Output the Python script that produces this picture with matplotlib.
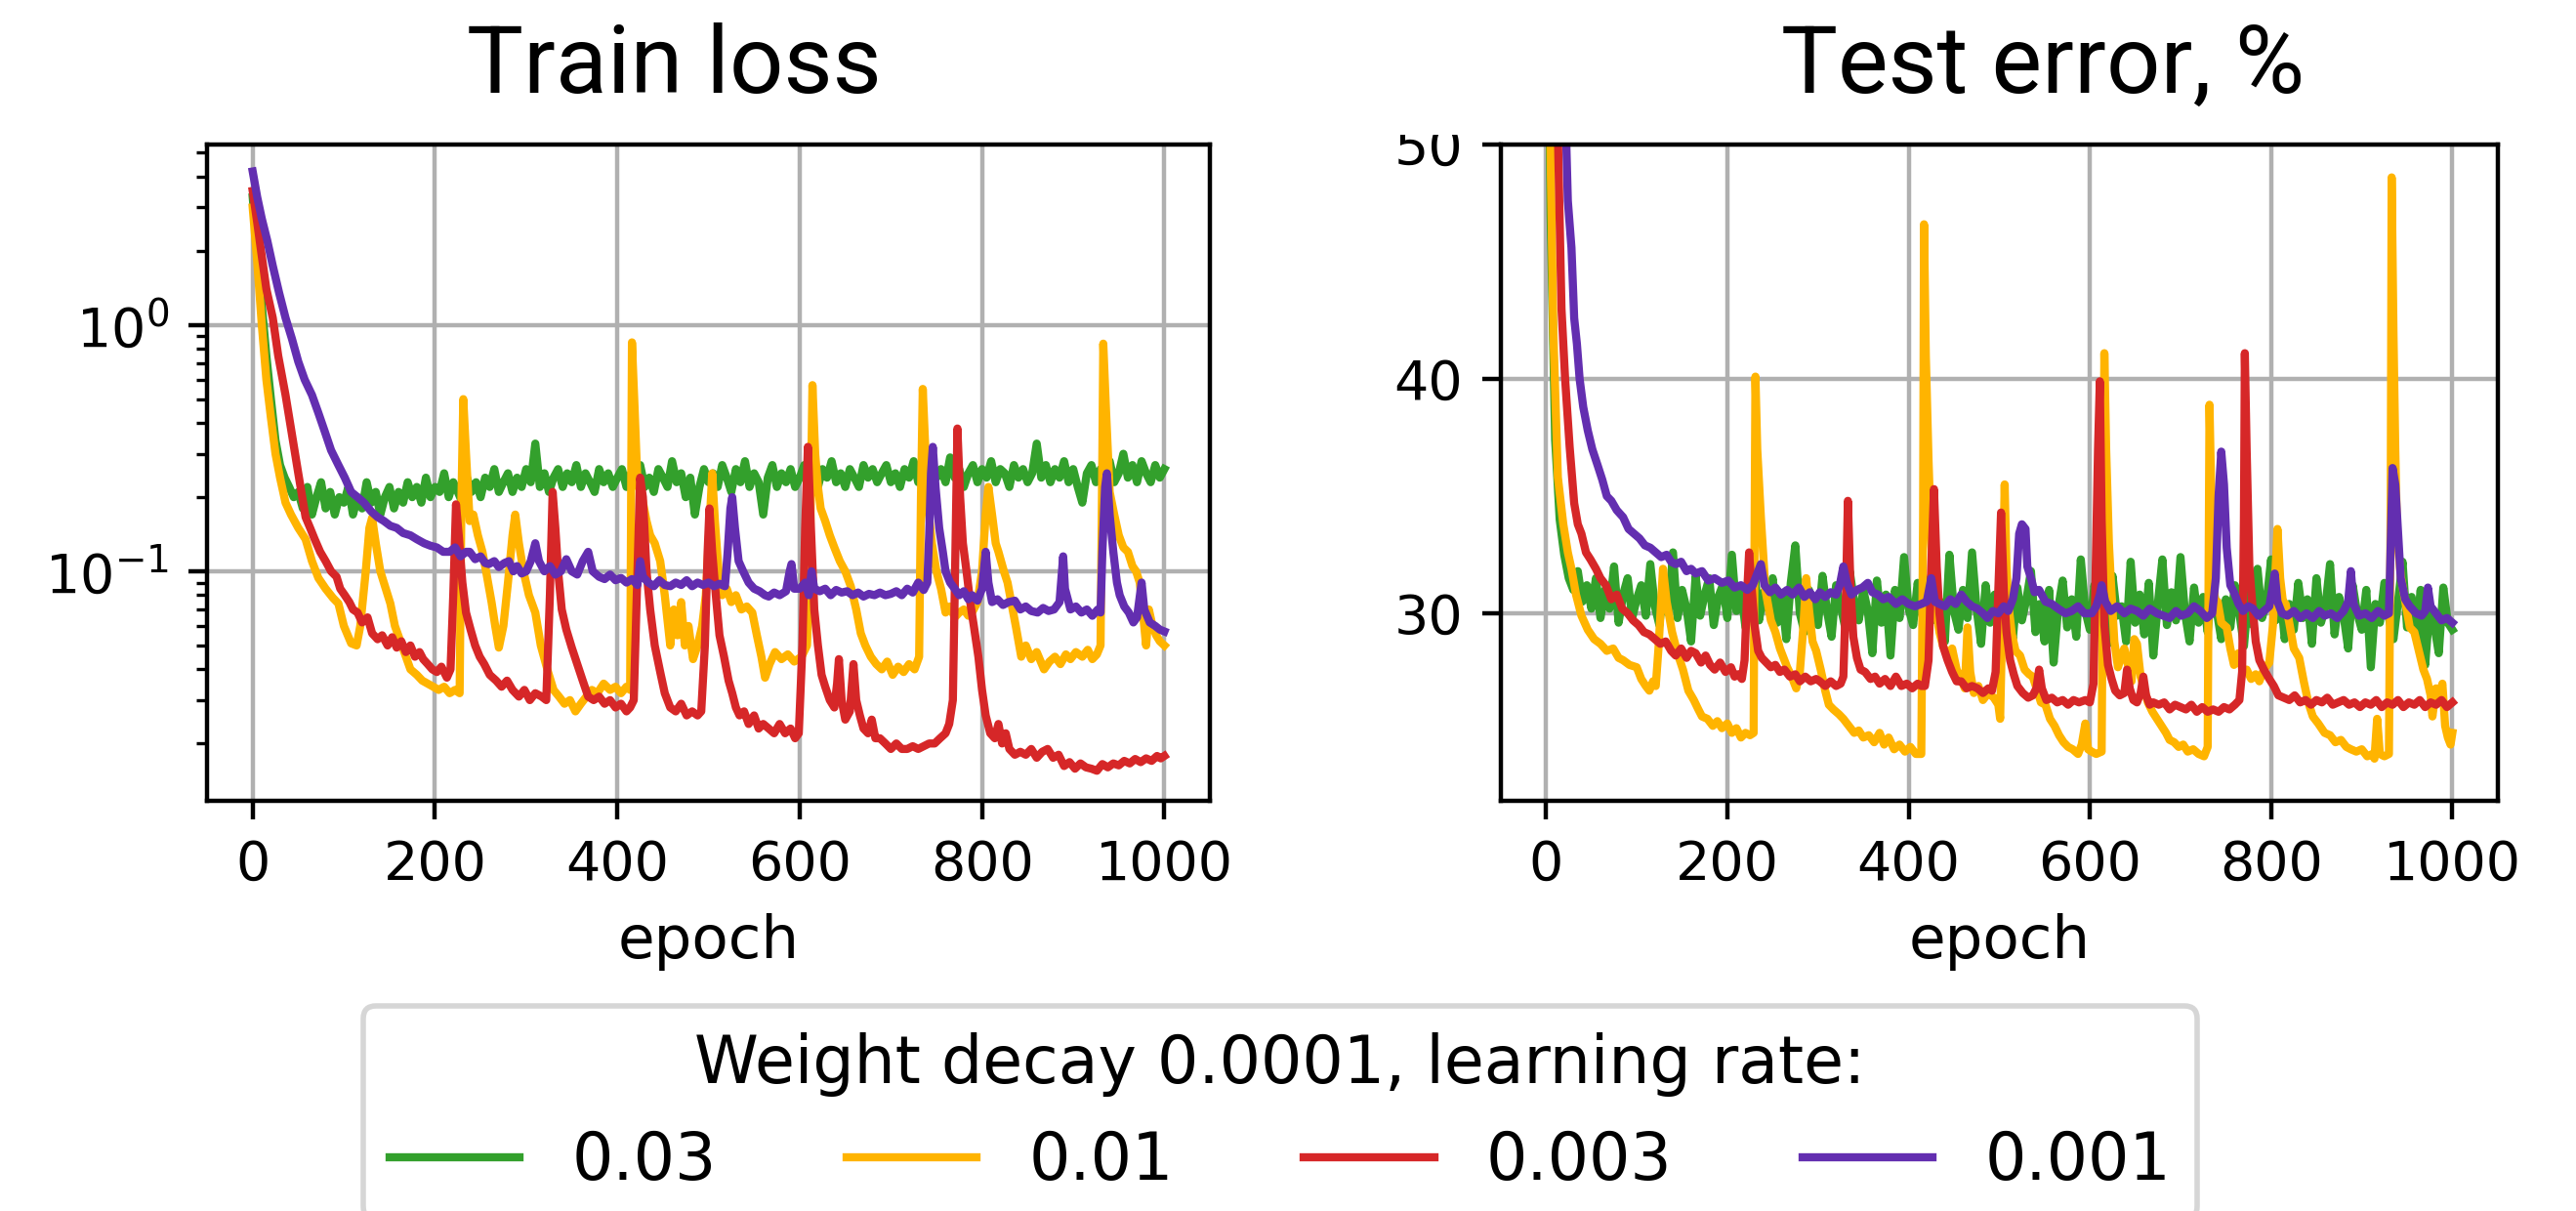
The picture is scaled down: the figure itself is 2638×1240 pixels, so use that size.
import numpy as np
import matplotlib
matplotlib.use("Agg")
import matplotlib.pyplot as plt
from matplotlib.transforms import Bbox, TransformedBbox

# learning rates and colours
lr_labels = ["0.03", "0.01", "0.003", "0.001"]
colors = ["#33a02c", "#ffb400", "#d62728", "#632eb0"]

# ---- train loss ----
# lr 0.03, sampled every 5 epochs
loss_green = [
    3.3, 2.0, 1.2, 0.75, 0.5, 0.34, 0.27, 0.24, 0.22, 0.2, 0.21,
    0.18, 0.22, 0.17, 0.2, 0.23, 0.18, 0.21, 0.17, 0.2, 0.19,
    0.22, 0.17, 0.2, 0.18, 0.23, 0.19, 0.21, 0.17, 0.2, 0.22,
    0.18, 0.21, 0.19, 0.23, 0.2, 0.22, 0.19, 0.24, 0.2, 0.22,
    0.21, 0.25, 0.2, 0.23, 0.21, 0.19, 0.24, 0.21, 0.23, 0.2,
    0.24, 0.22, 0.26, 0.21, 0.23, 0.25, 0.21, 0.24, 0.22, 0.26,
    0.23, 0.33, 0.22, 0.25, 0.21, 0.24, 0.26, 0.22, 0.25, 0.23,
    0.27, 0.22, 0.25, 0.23, 0.21, 0.26, 0.23, 0.25, 0.22, 0.24,
    0.26, 0.22, 0.25, 0.23, 0.27, 0.22, 0.24, 0.21, 0.26, 0.24,
    0.22, 0.28, 0.23, 0.25, 0.2, 0.24, 0.17, 0.22, 0.26, 0.23,
    0.25, 0.22, 0.27, 0.24, 0.21, 0.26, 0.23, 0.28, 0.22, 0.25,
    0.23, 0.17, 0.24, 0.27, 0.22, 0.25, 0.23, 0.26, 0.22, 0.24,
    0.27, 0.23, 0.25, 0.22, 0.26, 0.24, 0.28, 0.23, 0.25, 0.22,
    0.26, 0.24, 0.22, 0.27, 0.24, 0.26, 0.23, 0.25, 0.27, 0.23,
    0.25, 0.22, 0.26, 0.24, 0.28, 0.23, 0.25, 0.22, 0.27, 0.24,
    0.26, 0.23, 0.29, 0.24, 0.26, 0.22, 0.25, 0.27, 0.23, 0.26,
    0.24, 0.28, 0.23, 0.26, 0.25, 0.22, 0.27, 0.24, 0.26, 0.23,
    0.25, 0.33, 0.24, 0.27, 0.23, 0.26, 0.24, 0.28, 0.23, 0.26,
    0.22, 0.19, 0.25, 0.27, 0.23, 0.26, 0.24, 0.28, 0.23, 0.25,
    0.3, 0.24, 0.27, 0.23, 0.28, 0.25, 0.23, 0.27, 0.24, 0.26,
]

# (epoch, loss) for the other learning rates
loss_orange = [
    (0, 3.0), (5, 1.8), (10, 1.0), (15, 0.6), (20, 0.42), (25, 0.3), (30, 0.24), (36, 0.19),
    (42, 0.17), (50, 0.15), (58, 0.135), (65, 0.11), (72, 0.094), (80, 0.085), (88, 0.078),
    (94, 0.074), (100, 0.06), (108, 0.051), (114, 0.05), (118, 0.06), (124, 0.1), (128, 0.15),
    (131, 0.165), (135, 0.13), (140, 0.1), (146, 0.085), (151, 0.074), (156, 0.06), (162, 0.052),
    (168, 0.045), (173, 0.04), (180, 0.038), (186, 0.036), (192, 0.035), (198, 0.034), (204, 0.033),
    (210, 0.034), (216, 0.032), (222, 0.033), (227, 0.032), (229, 0.2), (231, 0.5), (234, 0.3),
    (238, 0.16), (242, 0.17), (247, 0.14), (252, 0.12), (256, 0.1), (262, 0.075), (266, 0.06),
    (270, 0.049), (275, 0.06), (280, 0.09), (285, 0.14), (288, 0.17), (292, 0.13), (297, 0.1),
    (303, 0.08), (310, 0.068), (316, 0.05), (324, 0.039), (330, 0.033), (336, 0.031), (342, 0.029),
    (348, 0.03), (354, 0.027), (360, 0.029), (366, 0.031), (372, 0.033), (378, 0.032), (385, 0.035),
    (392, 0.033), (398, 0.034), (404, 0.032), (410, 0.034), (414, 0.033), (416, 0.85), (419, 0.45),
    (422, 0.23), (427, 0.2), (432, 0.16), (436, 0.14), (441, 0.13), (447, 0.11), (452, 0.08),
    (458, 0.05), (462, 0.07), (466, 0.055), (470, 0.075), (474, 0.05), (478, 0.06), (483, 0.044),
    (488, 0.05), (493, 0.06), (497, 0.08), (501, 0.15), (504, 0.25), (507, 0.16), (511, 0.1),
    (515, 0.08), (520, 0.085), (525, 0.075), (530, 0.08), (536, 0.07), (542, 0.072), (548, 0.068),
    (553, 0.055), (558, 0.045), (562, 0.037), (567, 0.042), (573, 0.047), (580, 0.044), (587, 0.046),
    (594, 0.043), (602, 0.045), (608, 0.05), (611, 0.1), (614, 0.57), (617, 0.3), (620, 0.22),
    (623, 0.18), (628, 0.16), (633, 0.14), (638, 0.125), (644, 0.11), (650, 0.1), (656, 0.087),
    (662, 0.07), (667, 0.056), (672, 0.05), (678, 0.045), (684, 0.042), (690, 0.04), (696, 0.043),
    (702, 0.038), (708, 0.041), (714, 0.039), (720, 0.042), (726, 0.04), (731, 0.045), (733, 0.2),
    (735, 0.55), (738, 0.3), (741, 0.18), (745, 0.13), (750, 0.1), (755, 0.085), (760, 0.068),
    (765, 0.072), (770, 0.065), (775, 0.068), (780, 0.07), (785, 0.066), (789, 0.068), (795, 0.075),
    (800, 0.1), (804, 0.17), (807, 0.22), (811, 0.17), (815, 0.13), (818, 0.12), (824, 0.1),
    (828, 0.09), (832, 0.075), (837, 0.06), (843, 0.045), (848, 0.05), (854, 0.044), (860, 0.047),
    (868, 0.04), (874, 0.043), (880, 0.045), (886, 0.042), (892, 0.046), (897, 0.044), (903, 0.047),
    (910, 0.045), (916, 0.048), (921, 0.044), (926, 0.046), (930, 0.05), (932, 0.3), (933, 0.84),
    (936, 0.45), (940, 0.21), (945, 0.17), (950, 0.14), (955, 0.125), (960, 0.12), (965, 0.105),
    (969, 0.1), (973, 0.09), (977, 0.065), (980, 0.05), (983, 0.07), (987, 0.06), (991, 0.055),
    (995, 0.052), (1000, 0.05),
]

loss_red = [
    (0, 3.5), (5, 2.6), (10, 1.9), (15, 1.4), (22, 1.07), (28, 0.75), (36, 0.52), (43, 0.36),
    (50, 0.25), (58, 0.166), (63, 0.15), (68, 0.135), (74, 0.12), (80, 0.11), (86, 0.1),
    (92, 0.095), (96, 0.085), (101, 0.08), (106, 0.075), (110, 0.07), (115, 0.068), (120, 0.062),
    (126, 0.065), (131, 0.056), (137, 0.053), (142, 0.055), (148, 0.05), (153, 0.054), (158, 0.049),
    (163, 0.052), (168, 0.047), (173, 0.05), (178, 0.045), (183, 0.047), (187, 0.044), (192, 0.042),
    (197, 0.04), (202, 0.039), (207, 0.041), (213, 0.037), (217, 0.04), (220, 0.08), (223, 0.187),
    (226, 0.14), (230, 0.09), (234, 0.068), (239, 0.058), (244, 0.05), (249, 0.045), (254, 0.042),
    (260, 0.038), (267, 0.036), (273, 0.034), (279, 0.036), (285, 0.033), (292, 0.031), (298, 0.033),
    (304, 0.03), (310, 0.032), (317, 0.031), (322, 0.03), (326, 0.08), (329, 0.21), (332, 0.15),
    (335, 0.1), (339, 0.07), (344, 0.058), (350, 0.049), (356, 0.042), (362, 0.036), (368, 0.031),
    (374, 0.03), (380, 0.031), (386, 0.029), (392, 0.03), (398, 0.028), (404, 0.029), (410, 0.027),
    (414, 0.028), (418, 0.03), (422, 0.1), (425, 0.24), (428, 0.2), (432, 0.1), (436, 0.07),
    (441, 0.05), (447, 0.039), (452, 0.032), (458, 0.028), (464, 0.027), (470, 0.029), (476, 0.026),
    (482, 0.027), (488, 0.026), (492, 0.027), (496, 0.05), (499, 0.12), (501, 0.18), (504, 0.12),
    (508, 0.08), (512, 0.055), (517, 0.045), (522, 0.036), (526, 0.032), (530, 0.028), (534, 0.026),
    (539, 0.027), (544, 0.024), (550, 0.026), (555, 0.023), (560, 0.024), (566, 0.023), (572, 0.022),
    (578, 0.024), (584, 0.022), (590, 0.023), (595, 0.021), (599, 0.022), (603, 0.05), (606, 0.15),
    (609, 0.32), (612, 0.16), (616, 0.07), (620, 0.05), (624, 0.038), (628, 0.034), (633, 0.03),
    (638, 0.028), (641, 0.035), (643, 0.044), (646, 0.03), (650, 0.025), (655, 0.027), (659, 0.042),
    (662, 0.03), (666, 0.026), (670, 0.023), (675, 0.022), (679, 0.025), (683, 0.021), (688, 0.021),
    (694, 0.02), (700, 0.019), (706, 0.02), (712, 0.019), (718, 0.019), (724, 0.0195), (730, 0.019),
    (736, 0.0195), (742, 0.02), (748, 0.02), (754, 0.021), (760, 0.022), (764, 0.024), (768, 0.03),
    (770, 0.08), (773, 0.38), (776, 0.2), (779, 0.13), (783, 0.1), (787, 0.075), (791, 0.06),
    (796, 0.045), (800, 0.033), (804, 0.026), (809, 0.022), (814, 0.021), (818, 0.024), (822, 0.02),
    (826, 0.022), (830, 0.019), (836, 0.018), (842, 0.0185), (848, 0.018), (854, 0.019), (860, 0.0175),
    (866, 0.0185), (872, 0.019), (878, 0.0175), (884, 0.018), (890, 0.0162), (896, 0.0168), (902, 0.0158),
    (908, 0.0166), (914, 0.016), (920, 0.0158), (926, 0.0155), (932, 0.0165), (938, 0.016), (944, 0.0166),
    (950, 0.0163), (956, 0.017), (962, 0.0166), (968, 0.0173), (974, 0.0168), (980, 0.0174), (986, 0.017),
    (992, 0.0178), (996, 0.0174), (1000, 0.0178),
]

loss_purple = [
    (0, 4.2), (5, 3.3), (10, 2.7), (16, 2.2), (22, 1.74), (29, 1.35), (36, 1.07), (43, 0.88),
    (50, 0.71), (57, 0.6), (65, 0.52), (72, 0.44), (79, 0.37), (86, 0.31), (94, 0.27), (101, 0.24),
    (108, 0.21), (115, 0.2), (122, 0.19), (130, 0.175), (137, 0.166), (144, 0.16), (151, 0.153),
    (158, 0.15), (165, 0.143), (173, 0.14), (180, 0.135), (188, 0.13), (195, 0.127), (202, 0.125),
    (209, 0.12), (216, 0.12), (222, 0.125), (228, 0.115), (234, 0.12), (238, 0.12), (244, 0.112),
    (250, 0.115), (255, 0.108), (259, 0.107), (265, 0.11), (270, 0.104), (276, 0.108), (281, 0.11),
    (286, 0.1), (290, 0.105), (295, 0.098), (300, 0.1), (305, 0.11), (310, 0.13), (314, 0.11),
    (320, 0.1), (326, 0.105), (332, 0.097), (338, 0.1), (344, 0.112), (350, 0.1), (356, 0.097),
    (362, 0.11), (368, 0.12), (373, 0.1), (380, 0.095), (386, 0.093), (392, 0.097), (398, 0.092),
    (404, 0.094), (410, 0.09), (416, 0.093), (422, 0.088), (425, 0.11), (428, 0.095), (434, 0.09),
    (440, 0.087), (446, 0.092), (452, 0.088), (458, 0.087), (464, 0.09), (470, 0.088), (476, 0.092),
    (482, 0.087), (488, 0.09), (494, 0.088), (500, 0.09), (506, 0.087), (512, 0.089), (518, 0.087),
    (521, 0.12), (524, 0.18), (526, 0.2), (529, 0.15), (533, 0.11), (538, 0.1), (544, 0.09),
    (550, 0.085), (556, 0.083), (562, 0.08), (566, 0.079), (572, 0.082), (578, 0.08), (585, 0.083),
    (589, 0.1), (591, 0.107), (594, 0.085), (600, 0.085), (606, 0.09), (610, 0.08), (613, 0.1),
    (616, 0.085), (622, 0.083), (628, 0.085), (634, 0.08), (640, 0.084), (646, 0.082), (652, 0.083),
    (658, 0.08), (664, 0.082), (670, 0.079), (676, 0.081), (682, 0.08), (688, 0.082), (694, 0.08),
    (700, 0.081), (706, 0.083), (712, 0.08), (718, 0.085), (724, 0.082), (730, 0.09), (736, 0.084),
    (740, 0.09), (742, 0.14), (744, 0.25), (746, 0.32), (749, 0.22), (753, 0.15), (757, 0.12),
    (760, 0.1), (765, 0.09), (770, 0.085), (775, 0.08), (780, 0.083), (785, 0.077), (789, 0.08),
    (795, 0.076), (800, 0.085), (804, 0.12), (807, 0.09), (811, 0.075), (817, 0.077), (823, 0.073),
    (829, 0.075), (836, 0.076), (842, 0.07), (848, 0.072), (854, 0.069), (861, 0.068), (867, 0.071),
    (873, 0.069), (879, 0.07), (885, 0.075), (889, 0.115), (891, 0.085), (897, 0.07), (903, 0.072),
    (909, 0.068), (915, 0.07), (921, 0.066), (927, 0.07), (930, 0.068), (932, 0.12), (935, 0.22),
    (937, 0.25), (940, 0.17), (944, 0.12), (948, 0.09), (951, 0.08), (956, 0.072), (961, 0.068),
    (966, 0.062), (970, 0.065), (975, 0.09), (978, 0.07), (984, 0.062), (990, 0.06), (995, 0.058),
    (1000, 0.057),
]

# ---- test error, % ----
# lr 0.03, sampled every 5 epochs
err_green = [
    65, 47, 37.4, 34, 32.5, 31.5, 31, 31.8, 30.5, 31.2, 30.2,
    31.5, 29.8, 31, 30.2, 32, 29.6, 30.8, 31.5, 29.8, 30.6,
    31.2, 29.9, 32.1, 30.3, 29.5, 31.4, 30, 32.6, 29.8, 31,
    30.2, 28.8, 31.6, 29.9, 30.8, 31.5, 29.5, 30.7, 31.2, 29.8,
    32.5, 30.1, 31, 29.4, 30.6, 31.8, 29.7, 30.9, 30.2, 31.5,
    29.6, 30.8, 28.9, 31.3, 32.9, 30, 29.2, 31, 30.4, 29.5,
    31.6, 30.1, 29, 31.2, 30.3, 29.4, 31.8, 30.5, 29.7, 31,
    30.1, 28.3, 31.4, 29.6, 30.8, 28.2, 31, 29.8, 32.4, 30.2,
    29.5, 31.3, 30, 28.9, 31.6, 29.7, 30.5, 28.8, 32.5, 30.1,
    29.3, 31, 29.8, 32.6, 30.2, 28.7, 31.2, 29.6, 30.8, 29.2,
    31.5, 30, 28.9, 31.1, 29.7, 30.6, 31.8, 29.2, 30.4, 28.8,
    31, 27.9, 30.2, 31.4, 29.4, 30.6, 29, 32.3, 30.1, 29.3,
    31.2, 29.8, 30.5, 28.7, 31.6, 29.9, 30.3, 28.8, 32.2, 29.6,
    30.8, 29.1, 31.3, 28.2, 30.4, 32.3, 29.5, 30.9, 29.7, 32.4,
    30, 28.8, 31.1, 29.6, 30.7, 29.2, 31.5, 30.1, 28.9, 30.6,
    29.4, 31.2, 30, 28.6, 30.8, 29.5, 31.9, 29.8, 30.5, 32.3,
    29.7, 31, 28.9, 30.4, 29.3, 31.3, 29.8, 30.6, 28.7, 31.5,
    29.6, 30.3, 32.1, 29.1, 30.7, 29.9, 28.5, 31.2, 30, 29.3,
    31, 27.7, 30.4, 29.6, 31.3, 29.8, 28.9, 30.5, 32.2, 29.4,
    30.7, 29.1, 31, 27.8, 30.3, 29.5, 28.3, 31.1, 29.6, 29.3,
]

err_orange = [
    (0, 70), (4, 52), (8, 42), (13, 35.8), (19, 33.8), (24, 32.6), (28, 31.9), (33, 30.8),
    (39, 29.9), (46, 29.3), (53, 28.9), (60, 28.7), (67, 28.4), (74, 28.5), (80, 28.1), (85, 28),
    (92, 27.8), (100, 27.7), (105, 27.2), (110, 26.9), (114, 26.7), (118, 27.1), (121, 26.9),
    (124, 28.5), (129, 31.9), (133, 30.5), (139, 29.2), (145, 28.3), (151, 27.6), (157, 26.7),
    (163, 26.3), (168, 25.9), (172, 25.6), (178, 25.5), (184, 25.2), (189, 25.4), (194, 25.1),
    (200, 25.3), (205, 24.9), (210, 25.1), (215, 24.7), (220, 24.9), (225, 24.8), (229, 24.9),
    (230, 33), (231, 40.1), (233, 37), (237, 34.1), (242, 31), (248, 29.7), (253, 29.2), (258, 28.5),
    (262, 28.1), (266, 27.7), (271, 27.3), (276, 26.8), (280, 27.5), (284, 29.5), (287, 31.5),
    (290, 30.2), (294, 28.8), (298, 28.4), (303, 27.6), (308, 26.7), (312, 26.1), (317, 25.9),
    (323, 25.7), (328, 25.5), (334, 25.2), (340, 24.9), (345, 25), (350, 24.7), (356, 24.8),
    (362, 24.5), (368, 24.9), (373, 24.4), (378, 24.7), (384, 24.2), (390, 24.4), (396, 24.1),
    (402, 24.3), (408, 24.0), (414, 24.0), (416, 34), (417, 46.6), (419, 41), (422, 36.5),
    (425, 33), (429, 30.4), (434, 29.2), (438, 28.6), (443, 28.2), (448, 28.5), (453, 27.6),
    (458, 27.2), (462, 26.8), (465, 29.4), (468, 27.5), (472, 26.6), (477, 26.9), (482, 26.3),
    (488, 26.6), (494, 26.4), (499, 26.1), (501, 25.5), (503, 29), (506, 35.5), (508, 32),
    (510, 30.4), (514, 29.1), (518, 28.4), (523, 28.2), (528, 27.6), (533, 27.4), (537, 27.3),
    (542, 26.7), (546, 26.2), (551, 26.1), (556, 25.5), (561, 25.2), (566, 24.8), (571, 24.5),
    (576, 24.3), (581, 24.2), (587, 24), (591, 24.4), (595, 25.3), (598, 24.2), (602, 24.1),
    (607, 24.0), (613, 24.1), (614, 30), (616, 41.1), (618, 37), (621, 33), (623, 31.5),
    (627, 28.8), (631, 27.7), (635, 28.2), (638, 28.5), (642, 27.8), (646, 27.1), (649, 28.9),
    (652, 28.7), (656, 27.3), (659, 26.9), (664, 26.2), (669, 25.8), (674, 25.5), (679, 25.2),
    (684, 24.9), (688, 24.6), (693, 24.5), (698, 24.3), (703, 24.4), (708, 24.1), (714, 24.2),
    (720, 24), (726, 23.9), (730, 24.3), (732, 38.9), (735, 33), (738, 30.4), (741, 30.5),
    (745, 29.6), (751, 29.4), (755, 28.5), (759, 27.8), (764, 28.3), (769, 27.5), (773, 27.6),
    (778, 27.2), (783, 27.4), (787, 27.1), (792, 27.6), (798, 27.9), (802, 29.5), (805, 32),
    (807, 33.6), (810, 31.5), (813, 30.5), (816, 30.4), (820, 29.6), (825, 28.5), (831, 28.1),
    (836, 27.1), (841, 26.2), (846, 25.6), (852, 25.3), (859, 24.9), (865, 24.8), (871, 24.5),
    (877, 24.6), (883, 24.3), (888, 24.2), (894, 24.1), (900, 24.2), (906, 23.9), (912, 24.0),
    (914, 23.8), (917, 25.5), (920, 24.0), (925, 23.9), (930, 24.0), (932, 35), (933, 48.6),
    (935, 42), (937, 37), (939, 33.3), (943, 31.6), (948, 30.5), (953, 29.4), (958, 29.2),
    (963, 28.4), (968, 27.6), (972, 27.2), (976, 26.5), (978, 25.6), (982, 26.8), (986, 26.6),
    (989, 27), (992, 25.2), (995, 24.7), (998, 24.4), (1000, 24.9),
]

err_red = [
    (0, 60), (8, 55), (13, 50.5), (17, 43), (21, 40), (26, 37.1), (31, 34.7), (35, 33.8),
    (39, 33.4), (44, 32.6), (49, 32.3), (55, 31.9), (60, 31.5), (66, 31.2), (72, 30.6), (78, 30.8),
    (84, 30.2), (90, 30), (96, 29.7), (102, 29.5), (108, 29.2), (114, 29.1), (120, 28.9),
    (126, 28.7), (132, 28.8), (138, 28.4), (143, 28.2), (149, 28.5), (155, 28.1), (160, 28.4),
    (165, 28.3), (171, 27.9), (176, 28.2), (181, 27.8), (186, 27.6), (192, 27.9), (198, 27.5),
    (204, 27.7), (208, 27.3), (212, 27.4), (216, 27.2), (219, 28), (222, 31), (224, 32.6),
    (227, 31), (230, 29.5), (234, 28.4), (238, 28.1), (243, 27.9), (248, 27.7), (253, 27.8),
    (258, 27.5), (263, 27.6), (269, 27.3), (275, 27.4), (280, 27.1), (286, 27.3), (292, 27.1),
    (298, 27.2), (302, 27.1), (308, 26.9), (314, 27.1), (320, 26.9), (325, 27), (328, 27.3),
    (331, 31), (333, 34.8), (336, 31), (339, 29), (343, 28.1), (347, 27.6), (352, 27.5),
    (358, 27.2), (363, 27.3), (368, 27), (374, 27.2), (380, 26.9), (386, 27.3), (392, 26.9),
    (398, 27), (404, 26.8), (410, 27), (414, 26.9), (418, 26.9), (422, 28), (425, 32), (428, 35.3),
    (431, 32), (434, 30), (438, 28.6), (443, 28), (448, 27.5), (453, 27.1), (458, 27.1),
    (464, 26.8), (470, 26.9), (476, 26.8), (482, 26.6), (488, 26.8), (492, 26.7), (496, 27.5),
    (499, 31), (502, 34.3), (505, 31), (508, 29.2), (512, 28), (516, 27.4), (520, 26.9),
    (526, 26.6), (532, 26.4), (537, 26.5), (541, 26.8), (544, 27.6), (547, 26.8), (552, 26.3),
    (558, 26.4), (564, 26.2), (570, 26.3), (576, 26.1), (582, 26.3), (588, 26.2), (595, 26.3),
    (600, 26.2), (604, 27), (607, 33), (609, 37), (611, 39.9), (613, 34), (616, 29.5), (620, 27.8),
    (624, 27.2), (628, 26.7), (633, 26.5), (638, 26.6), (641, 27.6), (644, 26.8), (648, 26.3),
    (652, 26.2), (656, 26.6), (659, 27.3), (662, 26.5), (666, 26.1), (670, 26.2), (676, 26.1),
    (682, 26.2), (688, 25.9), (694, 26.1), (700, 26), (706, 25.9), (712, 26.1), (718, 25.8),
    (724, 26), (730, 25.8), (736, 25.9), (742, 25.8), (748, 26), (754, 25.9), (760, 26.1),
    (765, 26.3), (768, 27.5), (770, 34), (771, 41.1), (773, 37), (776, 32), (779, 30.5),
    (783, 28.8), (787, 28), (792, 27.6), (798, 27.2), (803, 26.9), (808, 26.5), (814, 26.4),
    (820, 26.3), (826, 26.5), (832, 26.2), (838, 26.3), (844, 26.1), (850, 26.3), (856, 26.2),
    (862, 26.4), (868, 26.1), (874, 26.2), (880, 26.3), (886, 26.1), (892, 26.2), (898, 26),
    (904, 26.2), (910, 26.1), (916, 26.3), (922, 26), (928, 26.2), (934, 26.1), (940, 26.3),
    (946, 26), (952, 26.2), (958, 26.1), (964, 26.3), (970, 26), (976, 26.2), (982, 26.1),
    (988, 26.3), (994, 26), (1000, 26.2),
]

err_purple = [
    (0, 75), (15, 55), (22, 50.5), (24, 47.6), (28, 45.6), (31, 42.6), (34, 41.5), (37, 40),
    (41, 38.8), (46, 37.8), (51, 37), (57, 36.3), (62, 35.7), (67, 35), (72, 34.8), (78, 34.4),
    (85, 34.1), (91, 33.6), (97, 33.4), (103, 33.2), (109, 32.9), (115, 32.8), (121, 32.6),
    (127, 32.4), (133, 32.5), (138, 32.2), (143, 32.1), (149, 32.2), (155, 31.8), (160, 31.9),
    (165, 31.7), (172, 31.8), (179, 31.4), (186, 31.5), (194, 31.3), (201, 31.4), (208, 31.1),
    (215, 31.2), (222, 31), (228, 31.2), (232, 31.6), (237, 32.1), (241, 31.2), (247, 30.9),
    (253, 31.1), (259, 30.8), (266, 31), (272, 30.8), (279, 31.1), (285, 30.7), (291, 30.9),
    (297, 30.6), (302, 30.9), (308, 30.7), (314, 30.9), (320, 30.8), (324, 31.2), (328, 32),
    (332, 31.3), (337, 30.8), (343, 31), (349, 31.1), (355, 31.3), (360, 30.9), (366, 30.8),
    (372, 30.6), (378, 30.7), (386, 30.4), (393, 30.6), (400, 30.4), (407, 30.3), (414, 30.4),
    (420, 30.5), (425, 31.5), (429, 30.5), (434, 30.4), (440, 30.3), (446, 30.6), (452, 30.4),
    (458, 30.8), (464, 30.5), (470, 30.3), (476, 30.2), (482, 30), (487, 29.8), (493, 30.1),
    (499, 30.0), (505, 30.3), (510, 30.1), (515, 30.6), (519, 31.5), (522, 33.4), (525, 33.8),
    (529, 33.6), (531, 32), (535, 31.5), (539, 30.9), (544, 31.0), (551, 30.5), (558, 30.4),
    (565, 30.2), (573, 30.0), (580, 30.1), (587, 30.3), (594, 30.0), (602, 30.0), (607, 30.3),
    (611, 30.8), (613, 31.2), (617, 30.5), (623, 30.1), (630, 30.3), (638, 30.0), (645, 30.2),
    (652, 30.1), (659, 29.9), (666, 30.2), (674, 30.0), (681, 29.9), (688, 29.8), (695, 30.1),
    (701, 29.9), (708, 30.0), (715, 30.3), (722, 30.1), (729, 29.8), (735, 30), (739, 31.5),
    (742, 35), (745, 36.9), (748, 35.5), (751, 32.8), (755, 31.2), (759, 30.9), (764, 30.4),
    (769, 30.1), (775, 30.3), (780, 30.2), (786, 29.9), (792, 30.1), (798, 30.3), (804, 31.7),
    (807, 30.5), (812, 30.0), (818, 29.9), (825, 30.1), (832, 29.8), (839, 30.0), (846, 29.8),
    (853, 30.1), (859, 29.9), (866, 30.0), (873, 29.8), (880, 30.1), (885, 30.5), (888, 31.8),
    (891, 30.4), (897, 29.9), (904, 30.0), (911, 29.8), (918, 30.1), (925, 29.9), (930, 30.0),
    (932, 33), (934, 36.2), (937, 35.5), (940, 33.5), (943, 31.5), (948, 30.6), (953, 30.3),
    (960, 30.0), (966, 29.9), (970, 30.1), (973, 31.1), (976, 30.3), (982, 30.0), (988, 29.7),
    (994, 29.8), (1000, 29.6),
]

green_epochs = np.arange(0, 1001, 5)

# %%
fig = plt.figure(figsize=(2638 / 400, 1240 / 400), dpi=400)
ax1 = fig.add_axes([0.0804, 0.3387, 0.3893, 0.5419])
ax2 = fig.add_axes([0.5826, 0.3387, 0.3870, 0.5419])

lw = 1.5
ax1.plot(green_epochs, loss_green, color=colors[0], lw=lw, label=lr_labels[0])
for pts, c, lab in zip([loss_orange, loss_red, loss_purple], colors[1:], lr_labels[1:]):
    ep, val = zip(*pts)
    ax1.plot(ep, val, color=c, lw=lw, label=lab)
ax1.set_yscale("log")
ax1.set_ylim(0.0117, 5.4)

ax2.plot(green_epochs, err_green, color=colors[0], lw=lw)
for pts, c in zip([err_orange, err_red, err_purple], colors[1:]):
    ep, val = zip(*pts)
    ax2.plot(ep, val, color=c, lw=lw)
ax2.set_ylim(22, 50)
ax2.set_yticks([30, 40, 50])

for ax in (ax1, ax2):
    ax.set_xlim(-50, 1050)
    ax.set_xticks([0, 200, 400, 600, 800, 1000])
    ax.grid(True, which="major")
    ax.set_xlabel("epoch", fontsize=11)
    ax.tick_params(labelsize=10)

# top tick label of the right plot is cut off in the original
clip = TransformedBbox(Bbox([[0, 0], [1, 1 - 138 / 1240]]), fig.transFigure)
for t in ax2.get_yticklabels():
    t.set_clip_box(clip)
    t.set_clip_on(True)

title_font = dict(family=["Roboto", "DejaVu Sans"], weight="normal", fontsize=17.5)
fig.text(690 / 2638, 1 - 95 / 1240, "Train loss", ha="center", va="baseline", **title_font)
fig.text(2092 / 2638, 1 - 95 / 1240, "Test error, %", ha="center", va="baseline", **title_font)

fig.legend(loc="upper center", bbox_to_anchor=(0.497, 0.1694), ncol=4, fontsize=12,
           title="Weight decay 0.0001, learning rate:", title_fontsize=12,
           borderaxespad=0)

fig.savefig("out.png", dpi=400)
